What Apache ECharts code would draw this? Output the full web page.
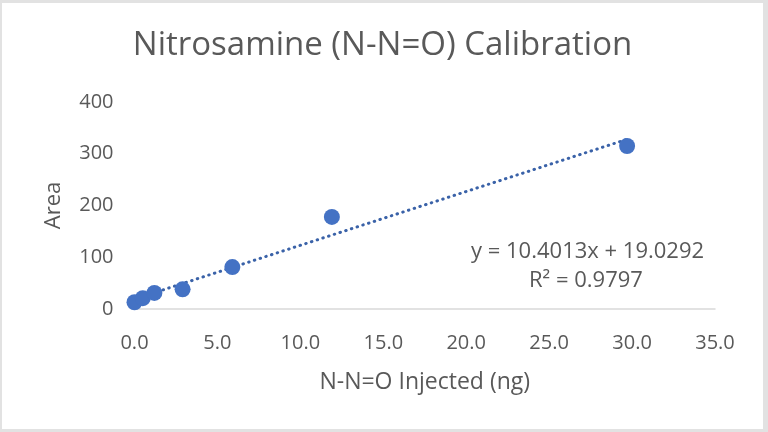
<!DOCTYPE html>
<html>
<head>
<meta charset="utf-8">
<script src="https://cdn.jsdelivr.net/npm/echarts@6/dist/echarts.min.js"></script>
<style>
  html, body { margin: 0; padding: 0; background: #e2e2e2; width: 768px; height: 432px; overflow: hidden; }
  #chart { position: absolute; left: 2px; top: 3px; width: 761px; height: 426px; background: #ffffff; }
</style>
</head>
<body>
<div id="chart"></div>
<script>
// ---- data ----
const injectedNg = [0.0, 0.5, 1.2, 2.9, 5.9, 11.9, 29.7];
const areaValues = [13, 21, 31, 38, 81, 178, 315];
const xTicks = [0, 5, 10, 15, 20, 25, 30, 35];
const yTicks = [0, 100, 200, 300, 400];
const trendSlope = 10.4013;
const trendIntercept = 19.0292;
const rSquared = 0.9797;
const titleText = 'Nitrosamine (N-N=O) Calibration';
const xAxisTitle = 'N-N=O Injected (ng)';
const yAxisTitle = 'Area';

const points = injectedNg.map((x, i) => [x, areaValues[i]]);
const xMin = Math.min(...injectedNg), xMax = Math.max(...injectedNg);
const trend = [[xMin, trendSlope * xMin + trendIntercept], [xMax, trendSlope * xMax + trendIntercept]];

const FONT = 'Open Sans';
const GREY = '#595959';
const BLUE = '#4472C4';

const chart = echarts.init(document.getElementById('chart'), null, { renderer: 'canvas' });
chart.setOption({
  animation: false,
  textStyle: { fontFamily: FONT },
  title: {
    text: titleText,
    left: 'center',
    top: 21,
    textStyle: { fontFamily: FONT, fontSize: 33, fontWeight: 'normal', color: GREY }
  },
  grid: { left: 132.5, right: 48, top: 99, bottom: 120, containLabel: false },
  xAxis: {
    type: 'value',
    min: xTicks[0], max: xTicks[xTicks.length - 1], interval: 5,
    name: xAxisTitle, nameLocation: 'middle', nameGap: 62,
    nameTextStyle: { fontFamily: FONT, fontSize: 23, color: GREY },
    axisLine: { show: true, lineStyle: { color: '#d9d9d9', width: 1.5 } },
    axisTick: { show: false },
    splitLine: { show: false },
    axisLabel: { margin: 24, fontFamily: FONT, fontSize: 20, color: GREY,
      formatter: v => v.toFixed(1) }
  },
  yAxis: {
    type: 'value',
    min: yTicks[0], max: yTicks[yTicks.length - 1], interval: 100,
    name: yAxisTitle, nameLocation: 'middle', nameGap: 70, nameRotate: 90,
    nameTextStyle: { fontFamily: FONT, fontSize: 22, color: GREY },
    axisLine: { show: false },
    axisTick: { show: false },
    splitLine: { show: false },
    axisLabel: { margin: 21, fontFamily: FONT, fontSize: 20, color: GREY }
  },
  series: [
    {
      type: 'line',
      data: trend,
      symbol: 'none',
      z: 1,
      lineStyle: { color: '#3a62a8', width: 3, type: [0.5, 5.5], cap: 'round' }
    },
    {
      type: 'scatter',
      data: points,
      symbol: 'circle',
      symbolSize: 16,
      z: 2,
      itemStyle: { color: BLUE, opacity: 1 }
    }
  ],
  graphic: [
    { type: 'text', left: 469, top: 238,
      style: { text: 'y = ' + trendSlope.toFixed(4) + 'x + ' + trendIntercept.toFixed(4),
        font: '22px "Open Sans"', fill: GREY } },
    { type: 'text', left: 527, top: 267,
      style: { text: 'R² = ' + rSquared.toFixed(4), font: '22px "Open Sans"', fill: GREY } }
  ]
});
</script>
</body>
</html>
